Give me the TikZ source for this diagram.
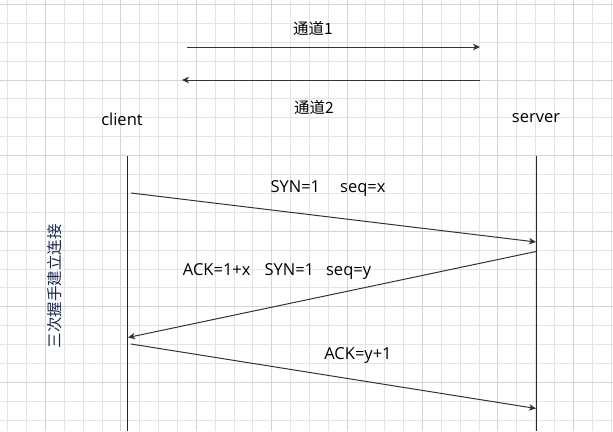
\documentclass[tikz,border=0pt]{standalone}
\usepackage{fontspec}
\setmainfont{Open Sans}
\newfontfamily\cjk{Noto Sans CJK SC}
\usepackage{xcolor}
\usepackage{tikz}
\usetikzlibrary{positioning,arrows.meta}

\definecolor{gridlight}{HTML}{E4E4E4}
\definecolor{griddark}{HTML}{D4D4D4}
\definecolor{inkline}{HTML}{333333}
\definecolor{phaseink}{HTML}{1A2850}

\begin{document}
\begin{tikzpicture}[x=1pt, y=-1pt,
  minorline/.style={draw=gridlight, line width=0.8pt},
  majorline/.style={draw=griddark, line width=0.8pt},
  lbl/.style={font=\fontsize{16.5}{19}\selectfont, inner sep=1pt},
  cjklbl/.style={font=\fontsize{15.5}{18}\selectfont\cjk, inner sep=1pt},
  life/.style={draw=black!85, line width=1pt},
  msg/.style={draw=inkline, line width=1pt, -{Stealth[length=7pt, width=6.5pt, inset=2pt]}}]
\useasboundingbox (0,0) rectangle (613,431);
% background grid
\foreach \i in {0,...,32} {
  \pgfmathsetmacro\gx{7.7+18.85*\i}
  \draw[minorline] (\gx,0) -- (\gx,431);
}
\foreach \i in {0,...,22} {
  \pgfmathsetmacro\gy{4.3+18.9*\i}
  \draw[minorline] (0,\gy) -- (613,\gy);
}
\foreach \i in {2,6,...,30} {
  \pgfmathsetmacro\gx{7.7+18.85*\i}
  \draw[majorline] (\gx,0) -- (\gx,431);
}
\foreach \i in {0,4,...,20} {
  \pgfmathsetmacro\gy{4.3+18.9*\i}
  \draw[majorline] (0,\gy) -- (613,\gy);
}
% channels
\coordinate (ch1s) at (187,47);
\coordinate (ch1e) at (480,47);
\coordinate (ch2s) at (480,80);
\coordinate (ch2e) at (182,80);
\node[cjklbl] (ch1) at (313,29) {通道1};
\node[cjklbl] (ch2) at (314,107) {通道2};
\draw[msg] (ch1s) -- (ch1e);
\draw[msg] (ch2s) -- (ch2e);
% lifelines
\node[lbl] (client) at (122,119) {client};
\node[lbl] (server) at (536,118) {server};
\coordinate (ctop) at (127.3,156);
\coordinate (cbot) at (127.3,431);
\coordinate (stop) at (536.3,156);
\coordinate (sbot) at (536.3,431);
\draw[life] (ctop) -- (cbot);
\draw[life] (stop) -- (sbot);
\node[cjklbl, rotate=90, text=phaseink] (phase) at (55,286) {三次握手建立连接};
% handshake
\coordinate (m1s) at (131,193);
\coordinate (m1e) at (536,242);
\coordinate (m2s) at (536,251.5);
\coordinate (m2e) at (128,337.5);
\coordinate (m3s) at (131,344);
\coordinate (m3e) at (536,408.5);
\draw[msg] (m1s) -- (m1e);
\draw[msg] (m2s) -- (m2e);
\draw[msg] (m3s) -- (m3e);
\node[lbl] (syn) at (328,189) {SYN=1\hspace{20pt}seq=x};
\node[lbl] (synack) at (277,272) {ACK=1+x\hspace{14pt}SYN=1\hspace{12pt}seq=y};
\node[lbl] (ack) at (358,356) {ACK=y+1};
\end{tikzpicture}
\end{document}
